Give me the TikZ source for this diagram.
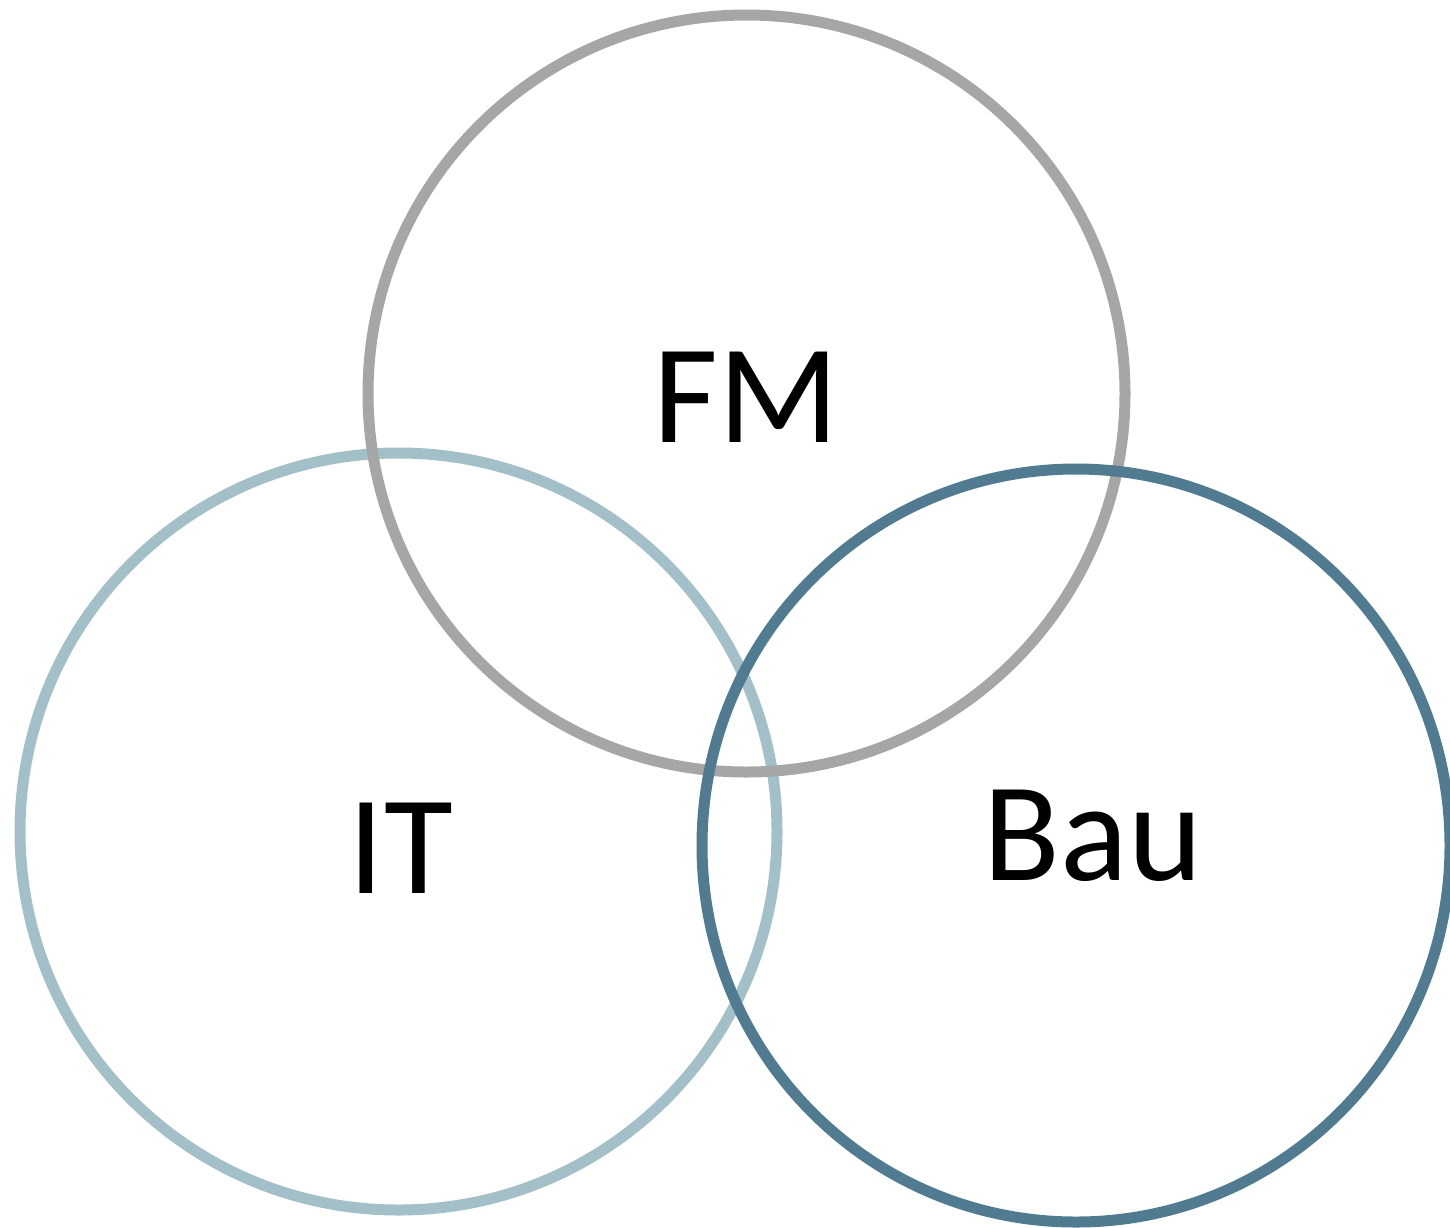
\documentclass[tikz,border=0pt]{standalone}
\usepackage{fontspec}
\setmainfont{Carlito}
\definecolor{fmgray}{HTML}{A6A6A6}
\definecolor{itblue}{HTML}{A3C0C9}
\definecolor{baublue}{HTML}{507B91}
\begin{document}
\begin{tikzpicture}[x=1pt,y=-1pt,
  ring/.style={line width=11pt},
  lbl/.style={font=\fontsize{141}{141}\selectfont, anchor=base, inner sep=0pt}]
\useasboundingbox (0,0) rectangle (1450,1227);
\draw[ring, itblue] (398.5,831.5) ellipse [x radius=378.5, y radius=378.5];
\draw[ring, fmgray] (746.5,393.5) ellipse [x radius=378.5, y radius=378.5];
\draw[ring, baublue] (1076,845.5) ellipse [x radius=374, y radius=376.5];
\node[lbl] (fm) at (746,442) {FM};
\node[lbl] (it) at (401,893) {IT};
\node[lbl] (bau) at (1093,880) {Bau};
\end{tikzpicture}
\end{document}
